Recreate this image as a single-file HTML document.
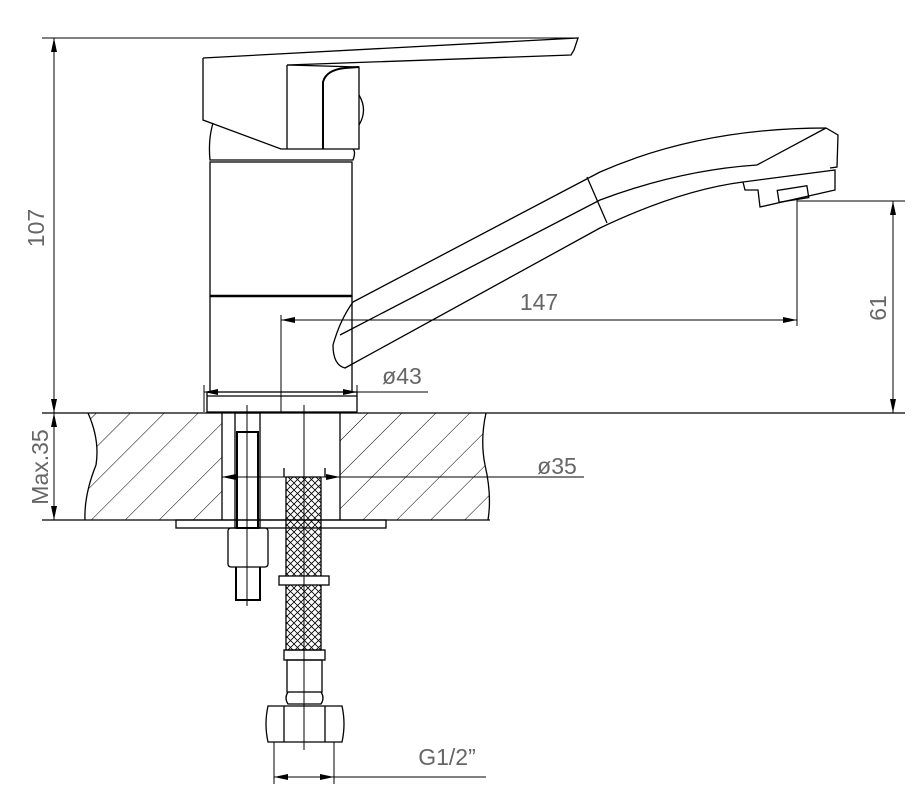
<!DOCTYPE html>
<html><head><meta charset="utf-8"><style>
html,body{margin:0;padding:0;background:#fff;}
svg{display:block;}
text{font-family:"Liberation Sans",sans-serif;fill:#666;}
</style></head><body>
<svg width="918" height="791" viewBox="0 0 918 791" xmlns="http://www.w3.org/2000/svg">
<defs>
<pattern id="hatch" width="24" height="24" patternUnits="userSpaceOnUse" patternTransform="rotate(45)">
<line x1="0" y1="0" x2="0" y2="24" stroke="#000" stroke-width="1"/>
</pattern>
<pattern id="mesh" width="7" height="7" patternUnits="userSpaceOnUse">
<path d="M0 0L7 7M7 0L0 7" stroke="#000" stroke-width="0.8"/>
</pattern>
<marker id="ar" viewBox="0 0 14 6" refX="14" refY="3" markerWidth="14" markerHeight="6" markerUnits="userSpaceOnUse" orient="auto-start-reverse">
<path d="M0 0L14 3L0 6z" fill="#000"/>
</marker>
</defs>
<g fill="none" stroke="#000" stroke-width="1.3">
<path d="M88 413 Q100 440 96 465 Q84 495 85 520 L222 520 L222 413 Z" fill="url(#hatch)" stroke="none"/>
<path d="M340 413 L486 413 Q480 440 485 465 Q492 495 488 520 L340 520 Z" fill="url(#hatch)" stroke="none"/>
<path d="M88 413 Q100 440 96 465 Q84 495 85 520"/>
<path d="M486 413 Q480 440 485 465 Q492 495 488 520"/>
<line x1="42" y1="413" x2="905" y2="413"/>
<line x1="42" y1="520" x2="490" y2="520"/>
<line x1="222" y1="413" x2="222" y2="520"/>
<line x1="340" y1="413" x2="340" y2="520"/>
<rect x="176" y="520" width="210" height="8"/>
<rect x="235" y="413" width="25" height="115"/>
<rect x="237" y="432" width="21" height="96" stroke-width="2"/>
<rect x="228" y="528" width="40" height="39" rx="3"/>
<path d="M236 567 L236 600 L260 600 L260 567" stroke-width="2"/>
<line x1="247" y1="405" x2="247" y2="606" stroke-width="1"/>
<rect x="286" y="477" width="35" height="173" fill="url(#mesh)"/>
<rect x="279" y="576" width="50" height="9" fill="#fff"/>
<path d="M284 477 L284 468 M325 477 L325 468"/>
<rect x="284" y="650" width="41" height="10"/>
<rect x="287" y="660" width="35" height="32"/>
<path d="M288 692 Q284 698 288 704 L321 704 Q325 698 321 692"/>
<path d="M268 706 L342 706 Q346 724 342 742 L268 742 Q264 724 268 706 Z"/>
<line x1="284" y1="706" x2="284" y2="742"/>
<line x1="325" y1="706" x2="325" y2="742"/>
<line x1="304" y1="405" x2="304" y2="750" stroke-width="1"/>
<path d="M203 58 L578 38 L574 50 L571 55 L287 65"/>
<path d="M203 58 L203 120 L281 149 L359 149 L359 67 L287 65"/>
<line x1="287" y1="65" x2="287" y2="149"/>
<path d="M323 149 L323 82 Q326 70 345 68 L359 67" stroke-width="2"/>
<path d="M359 95 Q368 110 359 125"/>
<path d="M213 123 Q208 140 210 160 L353 160 Q356 152 353 149"/>
<rect x="210" y="162" width="142" height="134"/>
<line x1="210" y1="296" x2="352" y2="296" stroke-width="2.5"/>
<path d="M210 296 L210 392 M352 296 L352 392"/>
<rect x="207" y="392" width="150" height="20"/>
<line x1="207" y1="396" x2="357" y2="396"/>
<path d="M353 302 L600 172 Q700 128 826 128 L838 135 L837 167 L830 168"/>
<path d="M353 302 Q340 320 333 345 Q333 365 345 368 L600 228 Q680 190 743 182"/>
<path d="M340 335 L600 200 Q680 170 757 165 L826 128"/>
<path d="M743 182 L745 190 L758 190 L760 207 L835 190 L835 170 Z"/>
<rect x="778" y="188" width="30" height="12" transform="rotate(-9 793 194)"/>
<line x1="587" y1="177" x2="607" y2="223"/>
<line x1="42" y1="38" x2="578" y2="38" stroke-width="1"/>
<line x1="54" y1="38" x2="54" y2="413" stroke-width="1" marker-start="url(#ar)" marker-end="url(#ar)"/>
<line x1="54" y1="413" x2="54" y2="520" stroke-width="1" marker-start="url(#ar)" marker-end="url(#ar)"/>
<line x1="42" y1="520" x2="85" y2="520" stroke-width="1"/>
<line x1="281" y1="320" x2="797" y2="320" stroke-width="1" marker-start="url(#ar)" marker-end="url(#ar)"/>
<line x1="281" y1="315" x2="281" y2="412" stroke-width="1"/>
<line x1="797" y1="200" x2="797" y2="326" stroke-width="1"/>
<line x1="797" y1="201" x2="905" y2="201" stroke-width="1"/>
<line x1="893" y1="201" x2="893" y2="413" stroke-width="1" marker-start="url(#ar)" marker-end="url(#ar)"/>
<line x1="204" y1="392" x2="357" y2="392" stroke-width="1" marker-start="url(#ar)" marker-end="url(#ar)"/>
<line x1="357" y1="392" x2="428" y2="392" stroke-width="1"/>
<line x1="204" y1="385" x2="204" y2="412" stroke-width="1"/>
<line x1="357" y1="385" x2="357" y2="412" stroke-width="1"/>
<line x1="222" y1="477" x2="340" y2="477" stroke-width="1" marker-start="url(#ar)" marker-end="url(#ar)"/>
<line x1="340" y1="477" x2="584" y2="477" stroke-width="1"/>
<line x1="274" y1="777" x2="334" y2="777" stroke-width="1" marker-start="url(#ar)" marker-end="url(#ar)"/>
<line x1="334" y1="777" x2="486" y2="777" stroke-width="1"/>
<line x1="274" y1="742" x2="274" y2="784" stroke-width="1"/>
<line x1="334" y1="742" x2="334" y2="784" stroke-width="1"/>
</g>
<g font-size="23">
<text x="44" y="228" transform="rotate(-90 44 228)" text-anchor="middle">107</text>
<text x="48" y="467" transform="rotate(-90 48 467)" text-anchor="middle">Max.35</text>
<text x="539" y="310" text-anchor="middle">147</text>
<text x="886" y="308" transform="rotate(-90 886 308)" text-anchor="middle">61</text>
<text x="402" y="384" text-anchor="middle">ø43</text>
<text x="557" y="474" text-anchor="middle">ø35</text>
<text x="447" y="765" text-anchor="middle">G1/2”</text>
</g>
</svg>
</body></html>
